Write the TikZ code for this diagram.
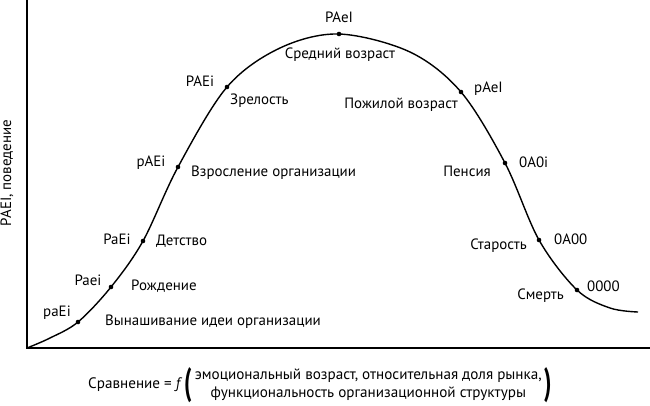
\documentclass[tikz,border=0pt]{standalone}
\usepackage{fontspec}
\setmainfont{PT Sans}
\begin{document}
\begin{tikzpicture}[x=1bp,y=-1bp,
  lbl/.style={inner sep=0pt,font=\fontsize{15}{17}\selectfont},
  dot/.style={circle,fill=black,inner sep=0pt,minimum size=4.6bp}]
\useasboundingbox (0,0) rectangle (650,405);
% axes
\coordinate (ytop) at (27,0);
\coordinate (orig) at (27,348);
\coordinate (xend) at (650,348);
\draw[line width=2bp] (ytop) -- (orig) -- (xend);
% curve
\draw[line width=1.4bp] plot[smooth,tension=0.55] coordinates {
 (27,348) (50,338) (78,322) (111,287) (143,241) (178,167) (227,87)
 (280,48) (339,34) (410,52) (461,92) (505,163) (539,240) (577,290) (610,308) (638,312)};
% dots
\node[dot] (d1) at (78,322) {};
\node[dot] (d2) at (111,287) {};
\node[dot] (d3) at (143,241) {};
\node[dot] (d4) at (178,167) {};
\node[dot] (d5) at (227,87) {};
\node[dot] (d6) at (339,34) {};
\node[dot] (d7) at (461,92) {};
\node[dot] (d8) at (505,163) {};
\node[dot] (d9) at (539,240) {};
\node[dot] (d10) at (577,290) {};
% codes
\node[lbl] (c1) at (57,313) {paEi};
\node[lbl] (c2) at (88,280) {Paei};
\node[lbl] (c3) at (117,239) {PaEi};
\node[lbl] (c4) at (151,163) {pAEi};
\node[lbl] (c5) at (200,81) {PAEi};
\node[lbl] (c6) at (339,17) {PAeI};
\node[lbl,anchor=west] (c7) at (474,89) {pAeI};
\node[lbl,anchor=west] (c8) at (519,162) {0A0i};
\node[lbl,anchor=west] (c9) at (554,239) {0A00};
\node[lbl,anchor=west] (c10) at (587,286) {0000};
% stage names
\node[lbl,anchor=west] (s1) at (105,322) {Вынашивание идеи организации};
\node[lbl,anchor=west] (s2) at (131,286) {Рождение};
\node[lbl,anchor=west] (s3) at (156,241) {Детство};
\node[lbl,anchor=west] (s4) at (191,173) {Взросление организации};
\node[lbl,anchor=west] (s5) at (230,101) {Зрелость};
\node[lbl] (s6) at (340,55) {Средний возраст};
\node[lbl] (s7) at (401,105) {Пожилой возраст};
\node[lbl,anchor=east] (s8) at (491,171) {Пенсия};
\node[lbl,anchor=east] (s9) at (527,246) {Старость};
\node[lbl,anchor=east] (s10) at (564,296) {Смерть};
% y label
\node[lbl,rotate=90] (ylab) at (7,173) {PAEI, поведение};
% formula
\node[inner sep=0pt,font=\fontsize{15.2}{18}\selectfont] (form) at (320,385)
 {Сравнение = \textit{f}\,$\vcenter{\hbox{\scalebox{1.5}[2.5]{\bfseries (}}}$\,$\vcenter{\hbox{\begin{tabular}{@{}c@{}}эмоциональный возраст, относительная доля рынка,\\ функциональность организационной структуры\end{tabular}}}$\,$\vcenter{\hbox{\scalebox{1.5}[2.5]{\bfseries )}}}$};
\end{tikzpicture}
\end{document}
